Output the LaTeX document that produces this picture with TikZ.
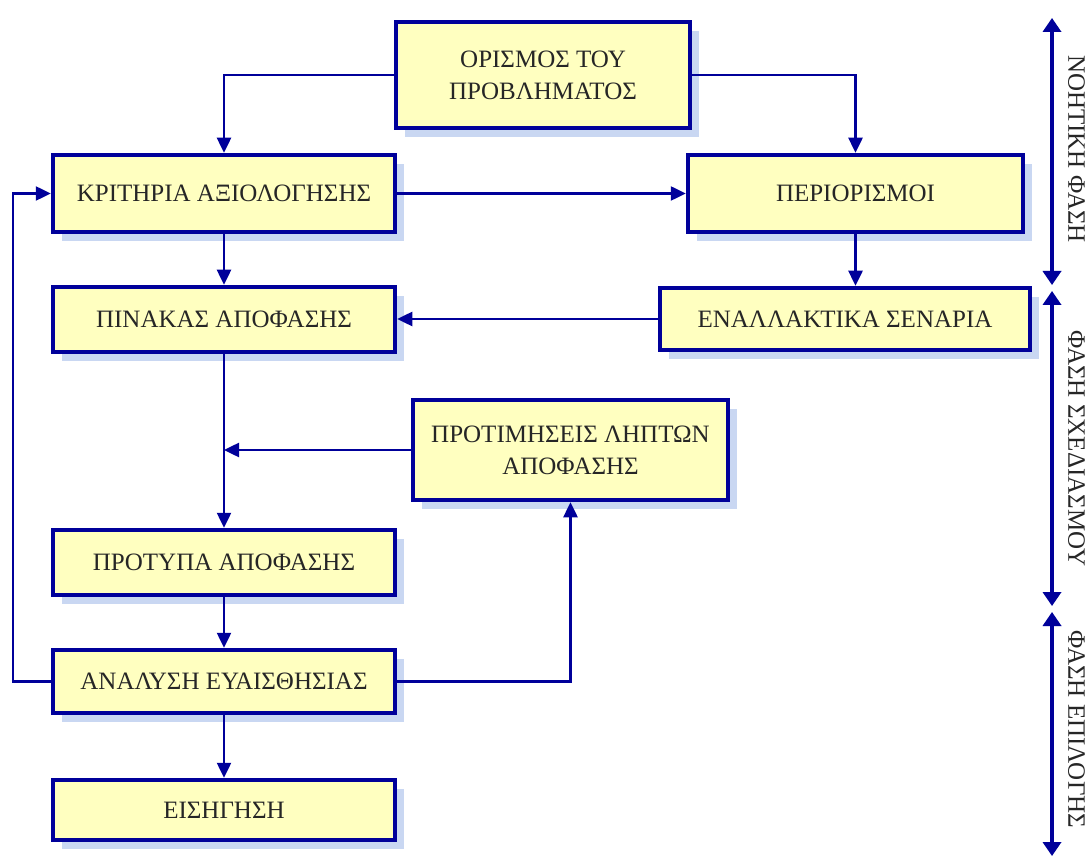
\documentclass[tikz,border=0pt]{standalone}
\usepackage{fontspec}
\setmainfont{Liberation Serif}
\usetikzlibrary{arrows.meta}
\definecolor{boxfill}{HTML}{FFFFC0}
\definecolor{navy}{HTML}{00009A}
\definecolor{shadowblue}{HTML}{C9D7F2}
% one stage of the process: shadow first, then the framed box
\newcommand\mkstage[6]{%
  \fill[shadowblue] (#2+9,#3+9) rectangle (#4+9,#5+9);
  \node[stagebox, minimum width=#4-#2, minimum height=#5-#3] (#1)
    at ({(#2+#4)/2},{(#3+#5)/2}) {#6};}
\begin{document}
\begin{tikzpicture}[x=1pt,y=-1pt,
  stagebox/.style={draw=navy, line width=4.5pt, fill=boxfill, align=center,
    inner sep=0pt, font=\fontsize{25}{32}\selectfont, text=black!85},
  flow/.style={draw=navy, line width=2.5pt, -{Triangle[length=15pt,width=14pt]}},
  phasearrow/.style={line width=3.6pt, {Triangle[length=14pt,width=18pt]}-{Triangle[length=14pt,width=18pt]}},
  phaselabel/.style={rotate=-90, anchor=south west, inner sep=0pt,
    font=\fontsize{25}{30}\selectfont, text=black!85},
]
\useasboundingbox (0,0) rectangle (1092,858);

\mkstage{orism}{396}{22}{690}{128}{ΟΡΙΣΜΟΣ ΤΟΥ\\ΠΡΟΒΛΗΜΑΤΟΣ}
\mkstage{krit}{53}{155}{395}{232}{ΚΡΙΤΗΡΙΑ ΑΞΙΟΛΟΓΗΣΗΣ}
\mkstage{peri}{688}{155}{1023}{232}{ΠΕΡΙΟΡΙΣΜΟΙ}
\mkstage{pin}{53}{287}{395}{352}{ΠΙΝΑΚΑΣ ΑΠΟΦΑΣΗΣ}
\mkstage{enal}{660}{288}{1030}{350}{ΕΝΑΛΛΑΚΤΙΚΑ ΣΕΝΑΡΙΑ}
\mkstage{protim}{413}{400}{728}{500}{ΠΡΟΤΙΜΗΣΕΙΣ ΛΗΠΤΩΝ\\ΑΠΟΦΑΣΗΣ}
\mkstage{protyp}{53}{530}{395}{595}{ΠΡΟΤΥΠΑ ΑΠΟΦΑΣΗΣ}
\mkstage{anal}{53}{650}{395}{713}{ΑΝΑΛΥΣΗ ΕΥΑΙΣΘΗΣΙΑΣ}
\mkstage{eis}{53}{780}{395}{840}{ΕΙΣΗΓΗΣΗ}

% connectors between the stages
\draw[flow] (orism.west) -| (krit.north);
\draw[flow] (orism.east) -| (peri.north);
\draw[flow] (krit.east) -- (peri.west);
\draw[flow] (krit.south) -- (pin.north);
\draw[flow] (peri.south) -- (peri.south |- enal.north);
\draw[flow] (enal.west) -- (enal.west -| pin.east);
\draw[flow] (pin.south) -- (protyp.north);
\coordinate (join) at (pin.south |- protim.west);
\draw[flow] (protim.west) -- (join);
\draw[flow] (protyp.south) -- (anal.north);
\draw[flow] (anal.east) -| (protim.south);
\draw[flow] (anal.west) -- ++(-38,0) |- (krit.west);
\draw[flow] (anal.south) -- (eis.north);

% phase ranges along the right edge
\coordinate (n1) at (1052,18);  \coordinate (n2) at (1052,285);
\coordinate (s1) at (1052,291); \coordinate (s2) at (1052,606);
\coordinate (e1) at (1052,612); \coordinate (e2) at (1052,856);
\begin{scope}[shift={(8,6)}]
  \draw[phasearrow, shadowblue] (n1) -- (n2);
  \draw[phasearrow, shadowblue] (s1) -- (s2);
  \draw[phasearrow, shadowblue] (e1) -- (e2);
\end{scope}
\draw[phasearrow, navy] (n1) -- (n2);
\draw[phasearrow, navy] (s1) -- (s2);
\draw[phasearrow, navy] (e1) -- (e2);

\node[phaselabel] (lab1) at (1068,55) {ΝΟΗΤΙΚΗ ΦΑΣΗ};
\node[phaselabel] (lab2) at (1068,330) {ΦΑΣΗ ΣΧΕΔΙΑΣΜΟΥ};
\node[phaselabel] (lab3) at (1068,630) {ΦΑΣΗ ΕΠΙΛΟΓΗΣ};
\end{tikzpicture}
\end{document}
